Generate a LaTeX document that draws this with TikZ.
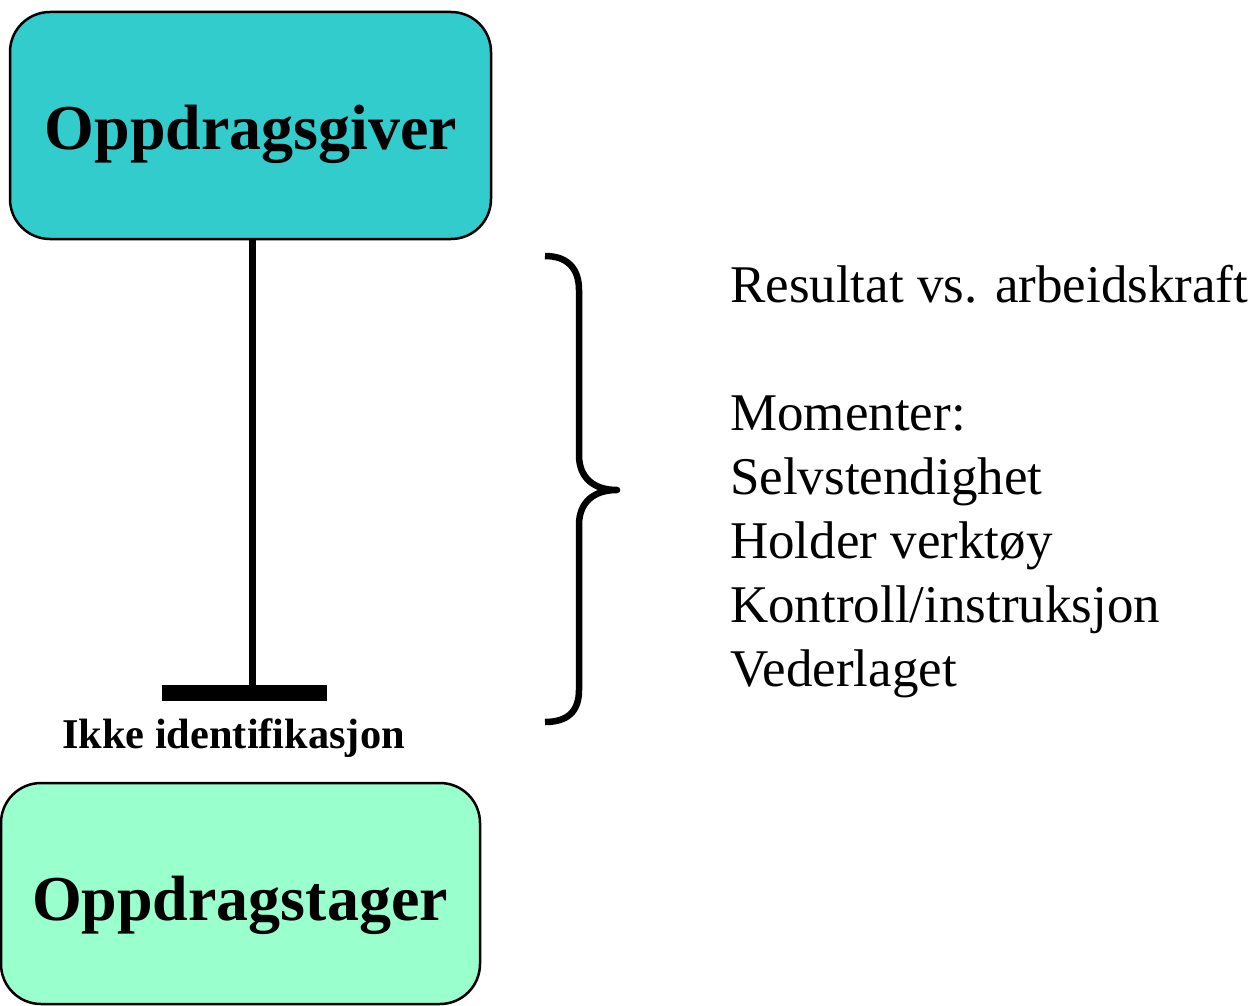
\documentclass[tikz,border=0pt]{standalone}
\usepackage{fontspec}
\setmainfont{Liberation Serif}[Ligatures=NoCommon]
\definecolor{giverfill}{HTML}{33CCCC}
\definecolor{tagerfill}{HTML}{99FFCC}
\tikzset{
  roundbox/.style={draw=black, line width=2.5pt, rounded corners=40pt, inner sep=0pt},
  boxlabel/.style={anchor=base, inner sep=0pt, font=\bfseries\fontsize{64}{76}\selectfont},
  listline/.style={anchor=base west, inner sep=0pt, font=\fontsize{53}{64}\selectfont},
}
\begin{document}
\begin{tikzpicture}[x=1pt, y=-1pt]
\useasboundingbox (0,0) rectangle (1251,1006);
% boxes
\node[roundbox, fill=giverfill, minimum width=481pt, minimum height=227pt] (giver) at (250.5,125.5) {};
\node[boxlabel] (givertext) at (251,150) {Oppdragsgiver};
\node[roundbox, fill=tagerfill, minimum width=479pt, minimum height=221pt] (tager) at (240.5,893.5) {};
\node[boxlabel] (tagertext) at (240,920) {Oppdragstager};
% bar and connector
\node[fill=black, inner sep=0pt, minimum width=165pt, minimum height=16pt] (bar) at (244.5,693) {};
\draw[line width=7pt] ([xshift=2pt]giver.south) -- ([xshift=2pt]giver.south |- bar.north);
\node[anchor=base, inner sep=0pt, font=\bfseries\fontsize{42.4}{50}\selectfont] (ikke) at (233.5,748) {Ikke identifikasjon};
% brace
\draw[line width=6.5pt, line join=round]
  (545,256) .. controls (567,256) and (579,268) .. (579,290)
  -- (579,455) .. controls (579,478) and (594,490) .. (617,490)
  .. controls (594,490) and (579,502) .. (579,525)
  -- (579,690) .. controls (579,712) and (567,722) .. (545,722);
% list
\node[listline] (l1) at (730,302) {Resultat vs. arbeidskraft};
\node[listline] (l2) at (730,430) {Momenter:};
\node[listline] (l3) at (730,494) {Selvstendighet};
\node[listline] (l4) at (730,558) {Holder verktøy};
\node[listline] (l5) at (730,622) {Kontroll/instruksjon};
\node[listline] (l6) at (730,686) {Vederlaget};
\end{tikzpicture}
\end{document}
